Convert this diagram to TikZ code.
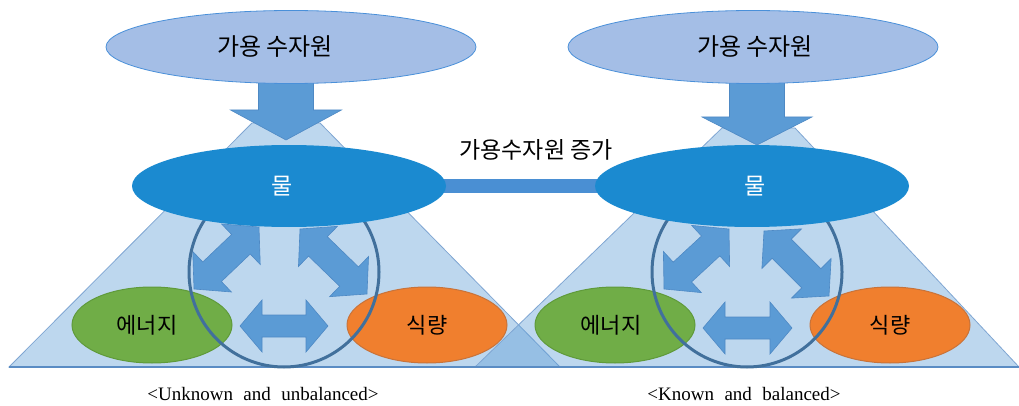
\documentclass[tikz,border=0pt]{standalone}
\usepackage{fontspec}
\setmainfont{Liberation Serif}
\newfontfamily\kr{Noto Sans CJK KR}
\usetikzlibrary{shapes.geometric,calc}
\definecolor{triblue}{HTML}{5B9BD5}
\definecolor{triedge}{HTML}{7FA6D2}
\definecolor{baseblue}{HTML}{5A8CC4}
\definecolor{topfill}{HTML}{A4BEE6}
\definecolor{topedge}{HTML}{4A90D9}
\definecolor{waterfill}{HTML}{1B8AD0}
\definecolor{barblue}{HTML}{4A8FD3}
\definecolor{greenfill}{HTML}{70AD47}
\definecolor{greenedge}{HTML}{5F9A3A}
\definecolor{orangefill}{HTML}{F07F2E}
\definecolor{orangeedge}{HTML}{C8733A}
\definecolor{arrowfill}{HTML}{5B9BD5}
\definecolor{arrowedge}{HTML}{4E89C4}
\definecolor{ringcol}{HTML}{41709C}
% double block arrow: #1,#2 tips; #3 head length; #4 head half-width; #5 shaft half-width
\newcommand\dblarrow[5]{%
 \draw[blockarrow] (#1)
 -- ($(#1)!#3!(#2)!#4!90:(#2)$)
 -- ($(#1)!#3!(#2)!#5!90:(#2)$)
 -- ($(#2)!#3!(#1)!#5!-90:(#1)$)
 -- ($(#2)!#3!(#1)!#4!-90:(#1)$)
 -- (#2)
 -- ($(#2)!#3!(#1)!#4!90:(#1)$)
 -- ($(#2)!#3!(#1)!#5!90:(#1)$)
 -- ($(#1)!#3!(#2)!#5!-90:(#2)$)
 -- ($(#1)!#3!(#2)!#4!-90:(#2)$)
 -- cycle;}
% single block arrow: #1 tail centre, #2 tip; #3 head length; #4 head half-width; #5 shaft half-width
\newcommand\sglarrow[5]{%
 \draw[blockarrow] ($(#1)!#5!90:(#2)$)
 -- ($(#2)!#3!(#1)!#5!-90:(#1)$)
 -- ($(#2)!#3!(#1)!#4!-90:(#1)$)
 -- (#2)
 -- ($(#2)!#3!(#1)!#4!90:(#1)$)
 -- ($(#2)!#3!(#1)!#5!90:(#1)$)
 -- ($(#1)!#5!-90:(#2)$) -- cycle;}
\begin{document}
\begin{tikzpicture}[x=1pt,y=-1pt,
  tri/.style={fill=triblue, fill opacity=0.4, draw=triedge, line width=0.8pt},
  topell/.style={ellipse, fill=topfill, draw=topedge, line width=0.8pt, minimum width=370pt, minimum height=73pt, inner sep=0pt, font=\kr\fontsize{24}{28}\selectfont},
  waterell/.style={ellipse, fill=waterfill, minimum width=314pt, minimum height=82pt, inner sep=0pt, text=white, font=\kr\fontsize{23}{26}\selectfont},
  energyell/.style={ellipse, fill=greenfill, draw=greenedge, line width=1pt, minimum width=160pt, minimum height=76pt, inner sep=0pt, font=\kr\fontsize{22}{26}\selectfont},
  foodell/.style={ellipse, fill=orangefill, draw=orangeedge, line width=1pt, minimum width=160pt, minimum height=76pt, inner sep=0pt, font=\kr\fontsize{22}{26}\selectfont},
  blockarrow/.style={fill=arrowfill, draw=arrowedge, line width=0.6pt},
  ring/.style={circle, draw=ringcol, line width=3pt, minimum size=190pt, inner sep=0pt},
  bar/.style={draw=barblue, line width=14pt},
  captext/.style={font=\fontsize{19}{22}\selectfont},
  labeltext/.style={font=\kr\fontsize{23}{26}\selectfont}]
\useasboundingbox (0,0) rectangle (1019,406);
% triangles
\draw[tri] (9,367) -- (252,123) -- (320,123) -- (560,367) -- cycle;
\draw[tri] (475,367) -- (722,128) -- (795,128) -- (1019,367) -- cycle;
\draw[draw=baseblue, line width=1.6pt] (9,367) -- (1019,367);
% bar between water ellipses
\coordinate (W1) at (289,186);
\coordinate (W2) at (752,186);
\draw[bar] (W1) -- (W2);
% energy and food
\node[energyell] (e1) at (152,325) {에너지\hspace*{10pt}};
\node[foodell] (f1) at (427,325) {식량};
\node[energyell] (e2) at (615,325) {에너지\hspace*{8pt}};
\node[foodell] (f2) at (890,325) {식량};
% double arrows, left
\coordinate (h1a) at (240,326); \coordinate (h1b) at (328,326);
\coordinate (l1a) at (194,289); \coordinate (l1b) at (259,227);
\coordinate (r1a) at (300,229); \coordinate (r1b) at (367,294);
\dblarrow{h1a}{h1b}{22pt}{26pt}{11pt}
\dblarrow{l1a}{l1b}{25pt}{28pt}{13.5pt}
\dblarrow{r1a}{r1b}{25pt}{28pt}{13.5pt}
% double arrows, right
\coordinate (h2a) at (703,328); \coordinate (h2b) at (792,328);
\coordinate (l2a) at (664,289); \coordinate (l2b) at (729,229);
\coordinate (r2a) at (764,231); \coordinate (r2b) at (829,296);
\dblarrow{h2a}{h2b}{22pt}{26pt}{11pt}
\dblarrow{l2a}{l2b}{25pt}{28pt}{13.5pt}
\dblarrow{r2a}{r2b}{25pt}{28pt}{13.5pt}
% rings
\node[ring] (c1) at (284,272) {};
\node[ring] (c2) at (747,272) {};
% water
\node[waterell] (w1) at (W1) {물\hspace*{14pt}};
\node[waterell] (w2) at (W2) {\hspace*{6pt}물};
% down arrows
\coordinate (d1a) at (286,72); \coordinate (d1b) at (286,140);
\coordinate (d2a) at (757,72); \coordinate (d2b) at (757,145);
\sglarrow{d1a}{d1b}{30pt}{55.5pt}{27.5pt}
\sglarrow{d2a}{d2b}{28pt}{55pt}{27.5pt}
% top ellipses
\node[topell] (t1) at (291,47) {가용 수자원\hspace*{32pt}};
\node[topell] (t2) at (753,47) {\hspace*{4pt}가용 수자원};
% label
\node[labeltext] (inc) at (536,150) {가용수자원 증가};
% captions
\node[captext] (cap1) at (263,394) {\spaceskip=0.55em\relax <Unknown and unbalanced>};
\node[captext] (cap2) at (744,394) {\spaceskip=0.55em\relax <Known and balanced>};
\end{tikzpicture}
\end{document}
